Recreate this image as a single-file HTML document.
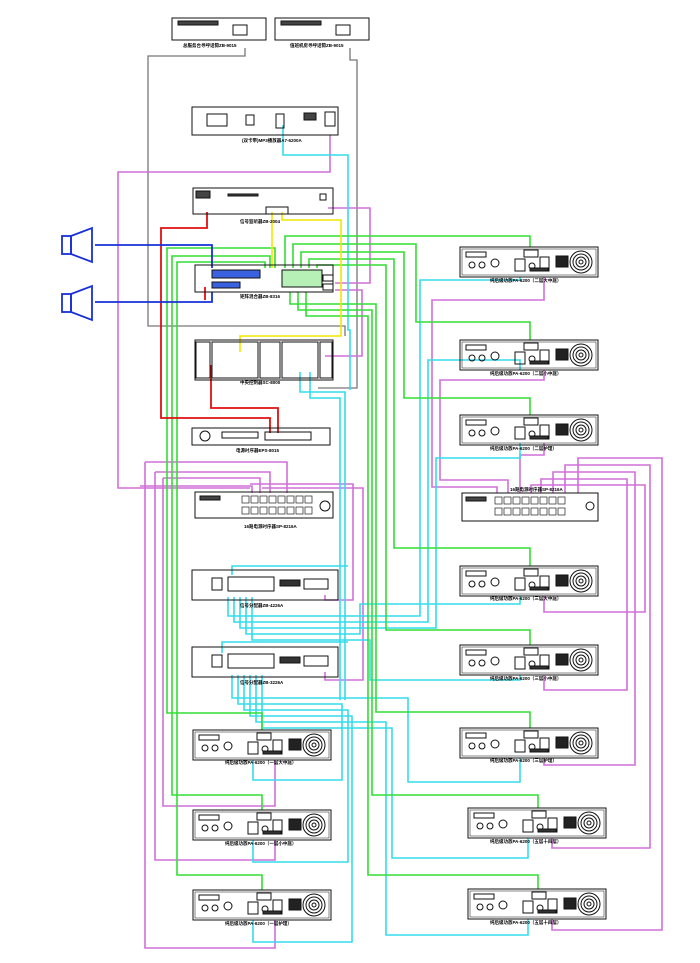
<!DOCTYPE html>
<html><head><meta charset="utf-8"><style>
html,body{margin:0;padding:0;background:#fff;width:700px;height:963px;overflow:hidden}
svg{display:block}
text{font-family:"Liberation Sans","Noto Sans CJK SC",sans-serif;font-size:4.5px;font-weight:bold;fill:#000}
</style></head><body>
<svg width="700" height="963" viewBox="0 0 700 963" xmlns="http://www.w3.org/2000/svg">
<defs>
<g id="amp" fill="none" stroke="#111" stroke-width="1">
<rect x="0" y="0" width="138" height="30"/>
<rect x="2" y="2" width="134" height="26" stroke-width="0.5"/>
<rect x="6" y="5" width="20" height="5"/>
<circle cx="12" cy="18" r="3"/><circle cx="22" cy="18" r="3"/><circle cx="35" cy="16" r="4"/>
<rect x="55" y="12" width="10" height="12"/><circle cx="72" cy="19" r="3"/>
<rect x="64" y="3" width="14" height="7"/>
<rect x="80" y="10" width="9" height="14"/>
<rect x="96" y="9" width="12" height="11" fill="#222"/>
<rect x="70" y="21" width="18" height="3" fill="#333"/>
<circle cx="121" cy="15" r="11"/><circle cx="121" cy="15" r="8"/><circle cx="121" cy="15" r="5"/><circle cx="121" cy="15" r="2"/>
</g>
<g id="dist" fill="none" stroke="#111" stroke-width="1">
<rect x="0" y="0" width="146" height="30"/>
<rect x="20" y="8" width="10" height="12"/><rect x="36" y="7" width="46" height="14"/>
<rect x="88" y="10" width="20" height="6" fill="#333"/><rect x="112" y="9" width="24" height="10"/>
</g>
<g id="sock" fill="none" stroke="#222" stroke-width="0.7">
<rect x="0" y="0" width="7" height="7"/><rect x="9" y="0" width="7" height="7"/><rect x="18" y="0" width="7" height="7"/><rect x="27" y="0" width="7" height="7"/>
<rect x="36" y="0" width="7" height="7"/><rect x="45" y="0" width="7" height="7"/><rect x="54" y="0" width="7" height="7"/><rect x="63" y="0" width="7" height="7"/>
</g>
</defs>

<g fill="none" stroke="#777" stroke-width="1.3">
<polyline points="245,48 245,56 148,56 148,326 345,326 345,336"/>
<polyline points="350,48 350,60 357,60 357,388 318,388"/>
</g>

<g fill="none" stroke="#d070d8" stroke-width="1.6">
<polyline points="330,135 330,172 118,172 118,488 250,488"/>
<polyline points="328,208 370,208 370,283 335,283"/>
<polyline points="335,290 362,290 362,356 325,356"/>
<polyline points="145,462 287,462 287,493"/>
<polyline points="155,472 270,472 270,493"/>
<polyline points="163,478 260,478 260,493"/>
<polyline points="140,486 252,486 252,493"/>
<polyline points="250,484 353,484 353,600 325,600 325,595"/>
<polyline points="262,488 363,488 363,680 325,680 325,672"/>
<polyline points="163,478 163,806 275,806 275,760"/>
<polyline points="155,472 155,860 275,860 275,840"/>
<polyline points="145,462 145,948 275,948 275,920"/>
<polyline points="544,277 544,300 432,300 432,487 497,487 497,493"/>
<polyline points="544,370 544,380 440,380 440,480 508,480 508,493"/>
<polyline points="544,443 544,455 520,455 520,493"/>
<polyline points="531,493 531,485 645,485 645,612 544,612 544,596"/>
<polyline points="541,493 541,479 627,479 627,690 544,690 544,675"/>
<polyline points="553,493 553,472 635,472 635,765 544,765 544,758"/>
<polyline points="565,493 565,465 650,465 650,848 552,848 552,838"/>
<polyline points="578,493 578,458 662,458 662,930 552,930 552,919"/>
</g>

<g fill="none" stroke="#33dcea" stroke-width="1.6">
<polyline points="283,125 283,155 348,155 348,330 350,330 350,390"/>
<polyline points="300,372 300,392 345,392 345,700"/>
<polyline points="310,372 310,398 340,398 340,700"/>
<polyline points="232,575 232,566 348,566"/>
<polyline points="222,653 222,642 348,642"/>
<polyline points="228,597 228,616 420,616 420,280 520,280 520,277"/>
<polyline points="234,597 234,622 428,622 428,360 520,360 520,370"/>
<polyline points="240,597 240,628 436,628 436,458 520,458 520,443"/>
<polyline points="246,597 246,634 360,634 360,604 520,604 520,596"/>
<polyline points="252,597 252,640 370,640 370,680 520,680 520,675"/>
<polyline points="232,675 232,698 408,698 408,782 520,782 520,758"/>
<polyline points="238,675 238,704 342,704 342,780 253,780 253,760"/>
<polyline points="244,675 244,710 348,710 348,862 253,862 253,840"/>
<polyline points="250,675 250,716 352,716 352,942 253,942 253,920"/>
<polyline points="256,675 256,722 386,722 386,935 528,935 528,919"/>
<polyline points="262,675 262,728 392,728 392,858 528,858 528,838"/>
</g>

<g fill="none" stroke="#33dd33" stroke-width="1.6">
<polyline points="275,268 275,248 167,248 167,713 262,713 262,730"/>
<polyline points="270,268 270,256 172,256 172,795 262,795 262,810"/>
<polyline points="265,268 265,262 177,262 177,875 262,875 262,890"/>
<polyline points="285,268 285,236 530,236 530,247"/>
<polyline points="293,268 293,244 416,244 416,322 530,322 530,340"/>
<polyline points="301,268 301,252 404,252 404,398 530,398 530,415"/>
<polyline points="309,268 309,259 394,259 394,548 530,548 530,566"/>
<polyline points="317,268 317,265 386,265 386,630 530,630 530,645"/>
<polyline points="290,292 290,304 376,304 376,712 530,712 530,728"/>
<polyline points="298,292 298,310 372,310 372,795 538,795 538,808"/>
<polyline points="306,292 306,316 368,316 368,875 538,875 538,889"/>
</g>

<g fill="none" stroke="#f2e600" stroke-width="1.6">
<polyline points="272,212 272,268"/>
<polyline points="282,212 282,220 341,220 341,336 240,336 240,352"/>
</g>

<g fill="none" stroke="#e01010" stroke-width="1.8">
<polyline points="207,212 207,228 161,228 161,418 270,418 270,433"/>
<polyline points="205,287 205,300"/>
<polyline points="211,365 211,408 278,408 278,433"/>
</g>

<g fill="none" stroke="#1830d8" stroke-width="1.8">
<polyline points="95,245 212,245 212,268"/>
<polyline points="95,302 212,302 212,292"/>
<rect x="62" y="236" width="9" height="18"/><polygon points="71,236 92,228 92,262 71,254"/>
<rect x="62" y="294" width="9" height="18"/><polygon points="71,294 92,286 92,320 71,312"/>
</g>

<g fill="none" stroke="#111" stroke-width="1">
<rect x="172" y="18" width="94" height="22"/><rect x="233" y="25" width="14" height="10"/>
<rect x="178" y="21" width="40" height="4" fill="#444"/>
<rect x="275" y="18" width="94" height="22"/><rect x="336" y="25" width="14" height="10"/>
<rect x="281" y="21" width="40" height="4" fill="#444"/>
<rect x="192" y="107" width="146" height="28"/><rect x="207" y="114" width="20" height="12"/>
<rect x="246" y="115" width="8" height="10"/><rect x="276" y="114" width="8" height="14"/>
<rect x="304" y="113" width="12" height="7" fill="#444"/><rect x="325" y="112" width="10" height="14"/>
<rect x="193" y="188" width="140" height="26"/><rect x="196" y="191" width="14" height="7" fill="#444"/>
<rect x="228" y="194" width="30" height="2" fill="#444"/><rect x="320" y="194" width="6" height="6"/>
<rect x="266" y="207" width="22" height="7"/>
<rect x="195" y="265" width="138" height="27"/>
<rect x="212" y="270" width="48" height="8" fill="#3a62e0"/><rect x="212" y="282" width="28" height="6" fill="#3a62e0"/>
<rect x="282" y="270" width="40" height="17" fill="#b6f0b6"/>
<rect x="323" y="275" width="10" height="6"/><rect x="323" y="284" width="10" height="6"/>
<rect x="195" y="340" width="138" height="40"/>
<rect x="196" y="342" width="14" height="36"/>
<rect x="212" y="342" width="46" height="36"/><rect x="260" y="342" width="20" height="36"/>
<rect x="282" y="342" width="36" height="36"/><rect x="320" y="342" width="12" height="36"/>
<rect x="192" y="428" width="138" height="17"/><circle cx="205" cy="436" r="5"/>
<rect x="222" y="432" width="36" height="6"/><rect x="265" y="432" width="46" height="8"/>
<rect x="195" y="492" width="138" height="26"/>
<rect x="200" y="496" width="20" height="4" fill="#444"/>
<circle cx="325" cy="506" r="5"/>
<rect x="462" y="493" width="136" height="28"/>
<rect x="466" y="497" width="20" height="4" fill="#444"/>
<circle cx="590" cy="506" r="4"/>
</g>
<use href="#sock" x="242" y="496"/><use href="#sock" x="242" y="507"/>
<use href="#sock" x="495" y="497"/><use href="#sock" x="495" y="508"/>
<use href="#dist" x="192" y="570"/>
<use href="#dist" x="192" y="647"/>
<use href="#amp" x="193" y="730"/>
<use href="#amp" x="193" y="810"/>
<use href="#amp" x="193" y="890"/>
<use href="#amp" x="460" y="247"/>
<use href="#amp" x="460" y="340"/>
<use href="#amp" x="460" y="415"/>
<use href="#amp" x="460" y="566"/>
<use href="#amp" x="460" y="645"/>
<use href="#amp" x="460" y="728"/>
<use href="#amp" x="468" y="808"/>
<use href="#amp" x="468" y="889"/>

<text x="183" y="47">总服务台寻呼话筒ZB-9015</text>
<text x="290" y="47">值班机房寻呼话筒ZB-9015</text>
<text x="242" y="142">(双卡带)MP3播放器A7-6200A</text>
<text x="240" y="223">信号监听器ZB-2004</text>
<text x="240" y="298">矩阵混合器ZB-8316</text>
<text x="240" y="384">中央控制器SC-8000</text>
<text x="236" y="452">电源时序器EPS-8015</text>
<text x="244" y="528">16路电源时序器SP-8216A</text>
<text x="240" y="607">信号分配器ZB-4226A</text>
<text x="240" y="684">信号分配器ZB-3226A</text>
<text x="225" y="764">纯后级功放PA-6200（一层大中庭）</text>
<text x="225" y="845">纯后级功放PA-6200（一层小中庭）</text>
<text x="225" y="925">纯后级功放PA-6200（一层护理）</text>
<text x="490" y="282">纯后级功放PA-6200（二层大中庭）</text>
<text x="490" y="375">纯后级功放PA-6200（二层小中庭）</text>
<text x="490" y="450">纯后级功放PA-6200（二层护理）</text>
<text x="510" y="491">16路电源时序器SP-8216A</text>
<text x="490" y="600">纯后级功放PA-6200（三层大中庭）</text>
<text x="490" y="680">纯后级功放PA-6200（三层小中庭）</text>
<text x="490" y="762">纯后级功放PA-6200（三层护理）</text>
<text x="490" y="843">纯后级功放PA-6200（五层十四层）</text>
<text x="490" y="924">纯后级功放PA-6200（五层十四层）</text>
</svg>
</body></html>
